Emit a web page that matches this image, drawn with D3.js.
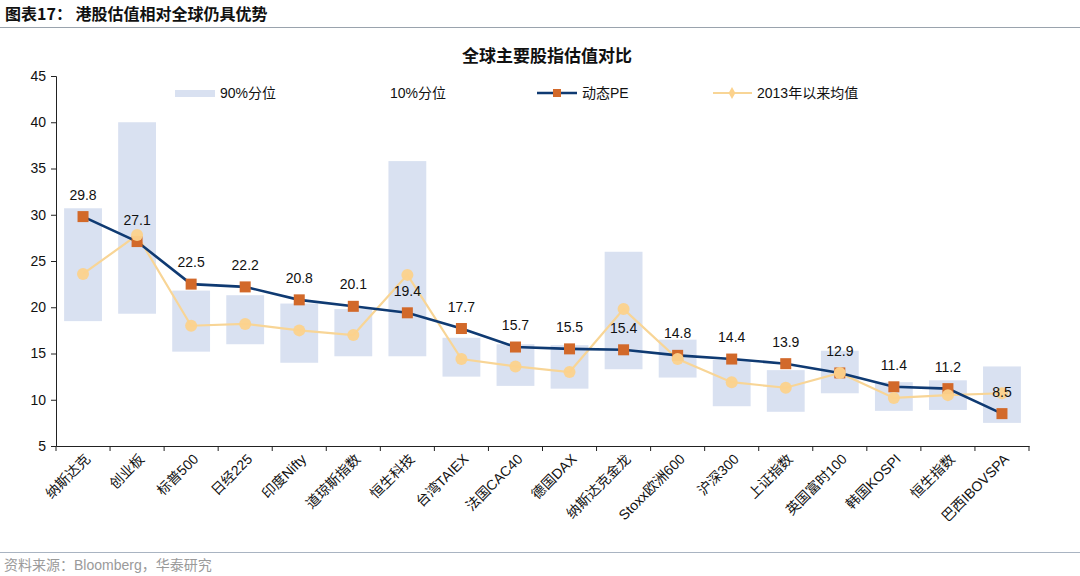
<!DOCTYPE html>
<html>
<head>
<meta charset="utf-8">
<script src="https://cdn.jsdelivr.net/npm/d3@7"></script>
<style>
  html, body { margin: 0; padding: 0; background: #fff; }
  svg { display: block; }
  text { font-family: "Liberation Sans", Arial, "Noto Sans CJK SC", sans-serif; }
</style>
</head>
<body>
<svg id="chart" width="1080" height="576"></svg>
<script>
const categories = ["纳斯达克","创业板","标普500","日经225","印度Nifty","道琼斯指数","恒生科技","台湾TAIEX","法国CAC40","德国DAX","纳斯达克金龙","Stoxx欧洲600","沪深300","上证指数","英国富时100","韩国KOSPI","恒生指数","巴西IBOVSPA"];
const pct90 = [30.7,40.0,21.8,21.3,20.4,19.8,35.8,16.7,16.0,15.9,26.0,16.5,14.3,13.2,15.3,11.9,12.1,13.6];
const pct10 = [18.5,19.3,15.2,16.0,14.0,14.7,14.7,12.5,11.5,11.2,13.3,12.4,9.3,8.7,10.7,8.8,8.9,7.5];
const pe    = [29.8,27.1,22.5,22.2,20.8,20.1,19.4,17.7,15.7,15.5,15.4,14.8,14.4,13.9,12.9,11.4,11.2,8.5];
const avg13 = [23.6,27.8,18.0,18.2,17.5,17.0,23.5,14.4,13.6,13.0,19.8,14.4,11.9,11.3,12.9,10.2,10.5,10.7];
const yTicks = [5,10,15,20,25,30,35,40,45];

const svg = d3.select("#chart");
const C = { bar: "#D9E1F1", pe: "#0F3A72", peMark: "#D2692A", avg: "#F8D596", avgMark: "#FCD28C", axis: "#222" };

// header
svg.append("text").attr("x", 5).attr("y", 20)
  .style("font-family", "'Noto Sans CJK SC', sans-serif")
  .style("font-size", "16px").style("font-weight", "bold").attr("fill", "#111")
  .text("图表17：  港股估值相对全球仍具优势");
svg.append("line").attr("x1", 0).attr("x2", 1080).attr("y1", 27.5).attr("y2", 27.5)
  .attr("stroke", "#9aa3ad").attr("stroke-width", 1);

// title
svg.append("text").attr("x", 547).attr("y", 62).attr("text-anchor", "middle")
  .style("font-family", "'Noto Sans CJK SC', sans-serif")
  .style("font-size", "17px").style("font-weight", "bold").attr("fill", "#111")
  .text("全球主要股指估值对比");

const x = d3.scaleBand().domain(categories).range([56, 1029]).paddingInner(0.3).paddingOuter(0.15);
const y = d3.scaleLinear().domain([5, 45]).range([446, 76]);
const cx = d => x(d) + x.bandwidth() / 2;

// floating bars
svg.append("g").selectAll("rect").data(categories).join("rect")
  .attr("x", d => x(d)).attr("width", x.bandwidth())
  .attr("y", (d, i) => y(pct90[i]))
  .attr("height", (d, i) => y(pct10[i]) - y(pct90[i]))
  .attr("fill", C.bar);

// y axis
const yAxis = svg.append("g").attr("transform", "translate(56,0)")
  .call(d3.axisLeft(y).tickValues(yTicks).tickSize(5).tickPadding(5));
yAxis.select(".domain").attr("stroke", C.axis);
yAxis.selectAll(".tick line").attr("stroke", C.axis);
yAxis.selectAll(".tick text").style("font-size", "14px").attr("fill", "#111")
  .style("font-family", "'Liberation Sans', Arial, sans-serif");

// x axis
const xAxis = svg.append("g").attr("transform", "translate(0,446)")
  .call(d3.axisBottom(x).tickSize(0).tickFormat(""));
xAxis.select(".domain").attr("stroke", C.axis);
const bounds = d3.range(categories.length + 1).map(i => 56 + i * x.step());
svg.append("g").selectAll("line").data(bounds).join("line")
  .attr("x1", d => d).attr("x2", d => d).attr("y1", 446).attr("y2", 451)
  .attr("stroke", C.axis);
svg.append("g").selectAll("text").data(categories).join("text")
  .attr("transform", d => `translate(${cx(d) + 8},${460}) rotate(-45)`)
  .attr("text-anchor", "end")
  .style("font-size", "14px").attr("fill", "#111")
  .text(d => d);

// avg line
const line = d3.line().x(d => d[0]).y(d => d[1]);
svg.append("path")
  .attr("d", line(categories.map((c, i) => [cx(c), y(avg13[i])])))
  .attr("fill", "none").attr("stroke", C.avg).attr("stroke-width", 2.2);

// pe line
svg.append("path")
  .attr("d", line(categories.map((c, i) => [cx(c), y(pe[i])])))
  .attr("fill", "none").attr("stroke", C.pe).attr("stroke-width", 2.6);

// pe markers
svg.append("g").selectAll("rect").data(categories).join("rect")
  .attr("x", d => cx(d) - 5.5).attr("width", 11)
  .attr("y", (d, i) => y(pe[i]) - 5.5).attr("height", 11)
  .attr("fill", C.peMark);

// avg markers
svg.append("g").selectAll("circle").data(categories).join("circle")
  .attr("cx", d => cx(d)).attr("cy", (d, i) => y(avg13[i])).attr("r", 6)
  .attr("fill", C.avgMark).attr("opacity", 0.95);

// data labels
svg.append("g").selectAll("text").data(categories).join("text")
  .attr("x", d => cx(d)).attr("y", (d, i) => y(pe[i]) - 17)
  .attr("text-anchor", "middle").style("font-size", "14px").attr("fill", "#111")
  .text((d, i) => pe[i].toFixed(1));

// legend
const lg = svg.append("g");
lg.append("rect").attr("x", 175).attr("y", 90).attr("width", 40).attr("height", 7).attr("fill", C.bar);
lg.append("text").attr("x", 220).attr("y", 98).style("font-size", "14px").attr("fill", "#111").text("90%分位");
lg.append("text").attr("x", 390).attr("y", 98).style("font-size", "14px").attr("fill", "#111").text("10%分位");
lg.append("line").attr("x1", 537).attr("x2", 577).attr("y1", 93).attr("y2", 93).attr("stroke", C.pe).attr("stroke-width", 2.6);
lg.append("rect").attr("x", 553).attr("y", 89).attr("width", 8).attr("height", 8).attr("fill", C.peMark);
lg.append("text").attr("x", 582).attr("y", 98).style("font-size", "14px").attr("fill", "#111").text("动态PE");
lg.append("line").attr("x1", 713).attr("x2", 752).attr("y1", 93).attr("y2", 93).attr("stroke", C.avg).attr("stroke-width", 2.2);
lg.append("path").attr("d", d3.symbol(d3.symbolDiamond, 40)()).attr("transform", "translate(732,93)").attr("fill", C.avgMark);
lg.append("text").attr("x", 757).attr("y", 98).style("font-size", "14px").attr("fill", "#111").text("2013年以来均值");

// footer
svg.append("line").attr("x1", 0).attr("x2", 1080).attr("y1", 552.5).attr("y2", 552.5)
  .attr("stroke", "#a9b4c2").attr("stroke-width", 1);
svg.append("text").attr("x", 4).attr("y", 570)
  .style("font-size", "14px").attr("fill", "#9a9a9a")
  .text("资料来源：Bloomberg，华泰研究");
</script>
</body>
</html>
